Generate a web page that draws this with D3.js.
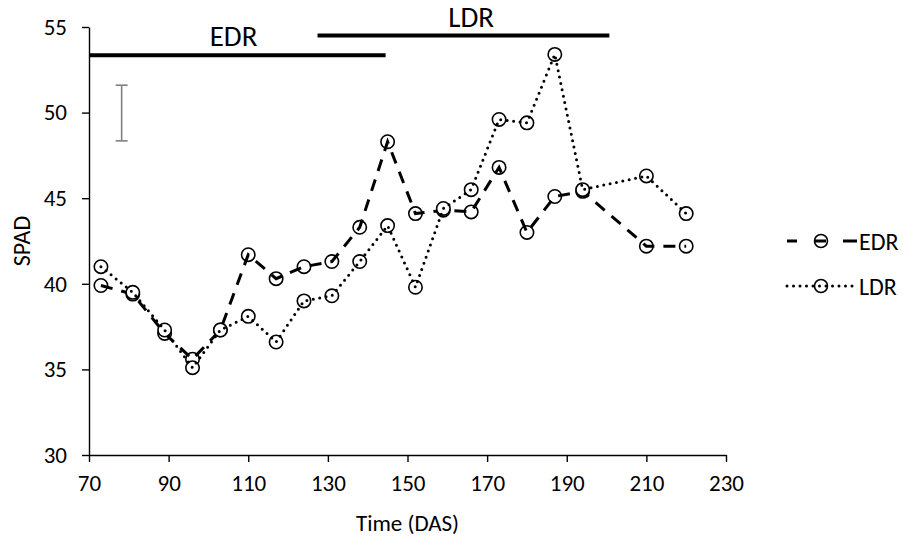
<!DOCTYPE html>
<html lang="en">
  <head>
    <meta charset="UTF-8" />
    <title>SPAD over time</title>
    <script src="https://d3js.org/d3.v7.min.js"></script>
    <style>
      body {
        margin: 0;
        background-color: #FFFFFF;
        font-family: Carlito, Lato, sans-serif;
      }
      .tick text {
        font-family: Carlito, Lato, sans-serif;
        font-size: 23px;
        fill: #000;
      }
    </style>
  </head>
  <body>
    <div id="my_dataviz"></div>
    <script>
      // data
      var days = [73, 81, 89, 96, 103, 110, 117, 124, 131, 138, 145, 152, 159, 166, 173, 180, 187, 194, 210, 220];
      var edr = [39.9, 39.4, 37.1, 35.6, 37.3, 41.7, 40.3, 41.0, 41.3, 43.3, 48.3, 44.1, 44.3, 44.2, 46.8, 43.0, 45.1, 45.4, 42.2, 42.2];
      var ldr = [41.0, 39.5, 37.3, 35.1, 37.3, 38.1, 36.6, 39.0, 39.3, 41.3, 43.4, 39.8, 44.4, 45.5, 49.6, 49.4, 53.4, 45.5, 46.3, 44.1];
      var xTicks = [70, 90, 110, 130, 150, 170, 190, 210, 230];
      var yTicks = [30, 35, 40, 45, 50, 55];

      // period bars above the lines
      var periodNames = ["EDR", "LDR"];
      var periodStart = [70, 127.4];
      var periodEnd = [144.5, 200.7];
      var periodLevel = [53.35, 54.5];
      var periodLabelDay = [106.3, 166];

      // error bar
      var errDay = 78.2;
      var errLow = 48.35;
      var errHigh = 51.6;

      var width = 903,
        height = 540;

      var svg = d3
        .select("#my_dataviz")
        .append("svg")
        .attr("width", width)
        .attr("height", height);

      var x = d3.scaleLinear().domain([70, 230]).range([89, 726]);
      var y = d3.scaleLinear().domain([30, 55]).range([455, 27]);

      // axes
      var xAxis = svg
        .append("g")
        .attr("transform", "translate(0," + y(30) + ")")
        .call(d3.axisBottom(x).tickValues(xTicks).tickSize(7).tickSizeOuter(0).tickPadding(13));
      var yAxis = svg
        .append("g")
        .attr("transform", "translate(" + x(70) + ",0)")
        .call(d3.axisLeft(y).tickValues(yTicks).tickSize(7).tickSizeOuter(0).tickPadding(15));
      [xAxis, yAxis].forEach(function (a) {
        a.select(".domain").attr("stroke", "#000").attr("stroke-width", 1.4);
        a.selectAll(".tick line").attr("stroke", "#000").attr("stroke-width", 1.4);
      });

      // axis titles
      svg.append("text")
        .attr("x", (x(70) + x(230)) / 2)
        .attr("y", 531)
        .attr("text-anchor", "middle")
        .style("font-size", "23px")
        .text("Time (DAS)");

      svg.append("text")
        .attr("transform", "translate(30," + (y(30) + y(55)) / 2 + ")rotate(-90)")
        .attr("text-anchor", "middle")
        .style("font-size", "24px")
        .text("SPAD");

      // period bars
      periodNames.forEach(function (name, i) {
        svg.append("line")
          .attr("x1", x(periodStart[i]))
          .attr("x2", x(periodEnd[i]))
          .attr("y1", y(periodLevel[i]))
          .attr("y2", y(periodLevel[i]))
          .attr("stroke", "#000")
          .attr("stroke-width", 4);
        svg.append("text")
          .attr("x", x(periodLabelDay[i]))
          .attr("y", y(periodLevel[i]) - 9)
          .attr("text-anchor", "middle")
          .style("font-size", "29px")
          .text(name);
      });

      // error bar
      var eb = svg.append("g").attr("stroke", "#808080").attr("stroke-width", 1.6);
      eb.append("line").attr("x1", x(errDay)).attr("x2", x(errDay)).attr("y1", y(errLow)).attr("y2", y(errHigh));
      eb.append("line").attr("x1", x(errDay) - 6).attr("x2", x(errDay) + 6).attr("y1", y(errLow)).attr("y2", y(errLow));
      eb.append("line").attr("x1", x(errDay) - 6).attr("x2", x(errDay) + 6).attr("y1", y(errHigh)).attr("y2", y(errHigh));

      // series
      var series = [
        { name: "EDR", values: edr, dash: "12,9", cap: "butt" },
        { name: "LDR", values: ldr, dash: "0,6.5", cap: "round" }
      ];

      var line = d3
        .line()
        .x(function (d) { return x(d[0]); })
        .y(function (d) { return y(d[1]); });

      series.forEach(function (s) {
        var pts = days.map(function (d, i) { return [d, s.values[i]]; });
        svg.append("g")
          .selectAll("circle")
          .data(pts)
          .enter()
          .append("circle")
          .attr("cx", function (d) { return x(d[0]); })
          .attr("cy", function (d) { return y(d[1]); })
          .attr("r", 6.7)
          .attr("fill", "#fff")
          .attr("stroke", "#000")
          .attr("stroke-width", 1.6);
        svg.append("path")
          .datum(pts)
          .attr("d", line)
          .attr("fill", "none")
          .attr("stroke", "#000")
          .attr("stroke-width", 3)
          .attr("stroke-dasharray", s.dash)
          .attr("stroke-linecap", s.cap);
      });

      // legend
      var legY = [241, 286];
      var legDash = ["10,17,12,17,14", "0,6.5"];
      series.forEach(function (s, i) {
        var g = svg.append("g");
        g.append("circle")
          .attr("cx", 821)
          .attr("cy", legY[i])
          .attr("r", 6.5)
          .attr("fill", "#fff")
          .attr("stroke", "#000")
          .attr("stroke-width", 1.6);
        g.append("line")
          .attr("x1", 787)
          .attr("x2", 857)
          .attr("y1", legY[i])
          .attr("y2", legY[i])
          .attr("stroke", "#000")
          .attr("stroke-width", 3)
          .attr("stroke-dasharray", legDash[i])
          .attr("stroke-linecap", s.cap);
        g.append("text")
          .attr("x", 859)
          .attr("y", legY[i])
          .attr("dy", "0.36em")
          .style("font-size", "24px")
          .text(s.name);
      });
    </script>
  </body>
</html>
